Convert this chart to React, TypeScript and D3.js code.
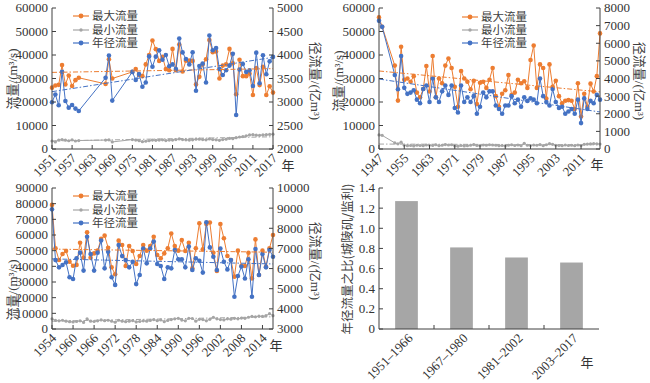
import React from 'react';
import * as d3 from 'd3';

const FONT = "'Liberation Serif','Times New Roman','Noto Sans CJK SC',serif";
const ORANGE = '#ED7D31';
const BLUE = '#4472C4';
const GRAY = '#A5A5A5';
const AXIS = '#404040';
const TEXT = '#333333';

const LEGEND = ['最大流量', '最小流量', '年径流量'];

// ---------- Panel 1 (1951–2017) ----------
const years1 = [1951, 1952, 1953, 1954, 1955, 1956, 1957, 1958, 1959, 1967, 1968, 1969, ...d3.range(1975, 2018)];
const max1 = [26100, 27000, 27300, 35700, 27500, 31300, 26800, 29300, 30300,
  27700, 38200, 30000,
  32800, 34000, 31500, 31000, 36000, 40000, 46200, 42500, 37500, 39200,
  34000, 33500, 42600, 33500, 44500, 33000, 37600, 37600, 37500, 27500,
  30700, 36000, 38200, 46400, 41200, 41500, 30000, 35500, 36000, 42600,
  36500, 23300, 38000, 31000, 31000, 32000, 23000, 34500, 27200, 35000,
  23000, 26700, 24000];
const min1 = [3400, 3000, 3800, 4000, 3800, 3500, 3900, 3400, 3600,
  3800, 3900, 3000,
  4000, 3800, 3500, 3100, 3300, 3500, 3800, 3700, 3800, 3900,
  3600, 3800, 3800, 4000, 4300, 4000, 3900, 3800, 3900, 4200,
  4200, 4000, 3900, 4300, 4000, 3900, 3700, 4000, 4200, 4500,
  4400, 4800, 5100, 5300, 5600, 6000, 6100, 5900, 5800, 6000,
  6100, 6200, 6300];
const annual1 = [2995, 3160, 2930, 3645, 3020, 2880, 2935, 2860, 2810,
  3515, 3990, 3030,
  3640, 3470, 3595, 3325, 3415, 3970, 3750, 3965, 4100, 3900,
  4000, 3760, 3800, 3700, 4350, 4055, 3915, 3800, 4060, 3240,
  3765, 3820, 3415, 4415, 4100, 4150, 3700, 3575, 3675, 3775,
  4025, 2725, 3690, 3810, 3640, 3675, 3340, 4050, 3400, 3995,
  3590, 3865, 3960];
const trendMax1 = [32600, 34200];
const trendMin1 = [3400, 5200];
const trendAnnual1 = [3220, 3950];

// ---------- Panel 2 (1947–2017) ----------
const years2 = [1947, 1948, ...d3.range(1952, 2018)];
const max2 = [56000, 52000,
  35500, 20600, 43500, 29500, 30000, 28600, 31000, 24000, 22000, 25500,
  35300, 24500, 39600, 22000, 30000, 28000, 35500, 38500, 34500, 26500,
  18000, 33200, 30000, 28600, 25400, 29000, 19100, 28200, 28600, 26000,
  29500, 34500, 22500, 18000, 23500, 25000, 31500, 23000, 24000, 29500,
  28000, 28800, 26000, 37900, 44000, 26000, 36000, 34500, 21500, 36000,
  26500, 29000, 22500, 19500, 20500, 20800, 20500, 17000, 28000, 13800,
  23500, 18000, 27800, 24500, 31000, 49200];
const min2 = [6000, 5800,
  2600, 2200, 2900, 1600, 1400, 1500, 1300, 1600, 1500, 1400,
  1700, 1600, 1500, 1800, 1400, 1600, 1900, 1700, 1800, 1300,
  1200, 1500, 1300, 1400, 1600, 1900, 1500, 1400, 1700, 1600,
  1800, 1700, 1600, 1400, 1500, 1300, 1600, 1800, 1500, 1700,
  1400, 2400, 1600, 1500, 1700, 1600, 1900, 1400, 1800, 2300,
  2000, 1600, 1500, 1400, 1700, 1500, 1600, 1400, 1700, 1500,
  2000, 2100, 2200, 2300, 2200, 2100];
const annual2 = [7270, 6930,
  4200, 3390, 5270, 3470, 3130, 3200, 3330, 2800, 2600, 3400,
  3600, 2670, 4000, 2930, 2670, 3270, 3600, 3070, 3600, 2330,
  2070, 3600, 2670, 2930, 2670, 3000, 2000, 2400, 3200, 2930,
  3270, 3270, 2470, 2270, 2000, 2470, 2470, 3000, 2600, 2800,
  2400, 2930, 2730, 2870, 2800, 2600, 4000, 3000, 2670, 2470,
  3400, 2670, 2330, 2400, 2000, 2130, 2270, 2000, 2800, 1470,
  2870, 2270, 2730, 2600, 3070, 2800];
const trendMax2 = [33200, 24300];
const trendMin2 = [2100, 1800];
const trendAnnual2 = [3970, 2100];

// ---------- Panel 3 (1954–2017) ----------
const years3 = d3.range(1954, 2018);
const max3 = [79200, 51500, 44000, 47900, 49800, 43000, 40400, 40900, 55100, 45500,
  61700, 45500, 48300, 50000, 57500, 59600, 51900, 39400, 34900, 56400,
  53600, 40200, 53000, 49800, 41500, 46600, 53600, 50000, 53000, 58900,
  47200, 45100, 48300, 51500, 61000, 53000, 50000, 56800, 49800, 55100,
  38700, 51500, 67500, 50900, 67000, 68000, 48700, 37000, 67000, 57900,
  46600, 44000, 33400, 50000, 40200, 40200, 48700, 32300, 57200, 34500,
  50000, 39800, 51500, 60000];
const min3 = [6500, 5500, 5200, 5600, 5000, 4700, 4500, 4800, 5200, 4200,
  6500, 5000, 4800, 5200, 5800, 5300, 5600, 5000, 4300, 5600,
  5000, 4700, 5000, 5400, 4500, 4800, 5200, 5000, 5500, 6000,
  5300, 5800, 4700, 5500, 6000, 6500, 6800, 5700, 5200, 6800,
  6700, 5000, 6200, 6000, 5200, 6200, 7500, 6500, 6000, 5800,
  6500, 6300, 6800, 6500, 7000, 6800, 7500, 8000, 7800, 8200,
  8000, 8500, 9800, 8500];
const annual3 = [8940, 6420, 6060, 6180, 6310, 5570, 5480, 6510, 6790, 5900,
  7580, 6720, 5900, 6790, 7390, 6010, 6840, 5570, 5190, 7170,
  6620, 6420, 6060, 6340, 5230, 5680, 7000, 6260, 7000, 7340,
  6230, 6130, 5480, 6060, 6010, 6920, 6460, 6460, 6060, 7090,
  5930, 6510, 6390, 5800, 8300, 7050, 6590, 5930, 7000, 6340,
  5960, 6420, 4600, 5630, 6100, 5510, 6460, 4600, 6970, 5680,
  6720, 6060, 6920, 6590];
const trendMax3 = [51000, 49000];
const trendMin3 = [5000, 7800];
const trendAnnual3 = [6480, 6230];

// ---------- Panel 4 (bars) ----------
const periods = ['1951–1966', '1967–1980', '1981–2002', '2003–2017'];
const ratios = [1.27, 0.81, 0.71, 0.66];
const ratioTicks = [0, 0.2, 0.4, 0.6, 0.8, 1.0, 1.2, 1.4];

type PanelProps = {
  left: number; right: number; top: number; bottom: number;
  years: number[]; maxV: number[]; minV: number[]; annual: number[];
  trendMax: number[]; trendMin: number[]; trendAnnual: number[];
  xDomain: [number, number]; xTicks: number[];
  yLDomain: [number, number]; yLTicks: number[];
  yRDomain: [number, number]; yRTicks: number[];
  legendX: number; legendY: number[];
  leftTitleY: number; rightTitleY: number; leftTitleX: number; rightTitleX: number;
  nianX: number; nianY: number;
};

const CJK = "'Noto Sans CJK SC',sans-serif";

function Legend({ x, ys }: { x: number; ys: number[] }) {
  const colors = [ORANGE, GRAY, BLUE];
  return (
    <g>
      {LEGEND.map((t, i) => (
        <g key={t}>
          <line x1={x} x2={x + 16} y1={ys[i]} y2={ys[i]} stroke={colors[i]} strokeWidth={1.2} />
          <circle cx={x + 8} cy={ys[i]} r={i === 1 ? 1.7 : 2.4} fill={colors[i]} />
          <text x={x + 19} y={ys[i]} dy="0.36em" fontSize={11.5} fill="#404040" fontFamily={FONT}>{t}</text>
        </g>
      ))}
    </g>
  );
}

function LinePanel(p: PanelProps) {
  const x = d3.scaleLinear().domain(p.xDomain).range([p.left, p.right]);
  const yL = d3.scaleLinear().domain(p.yLDomain).range([p.bottom, p.top]);
  const yR = d3.scaleLinear().domain(p.yRDomain).range([p.bottom, p.top]);
  const mk = (vals: number[], y: d3.ScaleLinear<number, number>) =>
    d3.line<number>().x((_, i) => x(p.years[i])).y((d) => y(d))(vals) || '';
  const trend = (vals: number[], y: d3.ScaleLinear<number, number>) =>
    d3.line<number>().x((_, i) => x(p.xDomain[i])).y((d) => y(d))(vals) || '';
  const tickLen = 4;
  const dash = '5,2,1.5,2';
  return (
    <g fontFamily={FONT}>
      <path d={mk(p.minV, yL)} fill="none" stroke={GRAY} strokeWidth={1} />
      {p.minV.map((v, i) => <circle key={'g' + i} cx={x(p.years[i])} cy={yL(v)} r={1.6} fill={GRAY} />)}
      <path d={mk(p.maxV, yL)} fill="none" stroke={ORANGE} strokeWidth={1} />
      {p.maxV.map((v, i) => <circle key={'o' + i} cx={x(p.years[i])} cy={yL(v)} r={2.3} fill={ORANGE} />)}
      <path d={mk(p.annual, yR)} fill="none" stroke={BLUE} strokeWidth={1} />
      {p.annual.map((v, i) => <circle key={'b' + i} cx={x(p.years[i])} cy={yR(v)} r={2.3} fill={BLUE} />)}
      <path d={trend(p.trendMin, yL)} fill="none" stroke={GRAY} strokeWidth={1} strokeDasharray={dash} />
      <path d={trend(p.trendMax, yL)} fill="none" stroke={ORANGE} strokeWidth={1} strokeDasharray={dash} />
      <path d={trend(p.trendAnnual, yR)} fill="none" stroke={BLUE} strokeWidth={1} strokeDasharray={dash} />
      <line x1={p.left} x2={p.left} y1={p.top} y2={p.bottom} stroke={AXIS} />
      <line x1={p.right} x2={p.right} y1={p.top} y2={p.bottom} stroke={AXIS} />
      <line x1={p.left} x2={p.right} y1={p.bottom} y2={p.bottom} stroke={AXIS} />
      {p.yLTicks.map((t) => (
        <g key={'l' + t}>
          <line x1={p.left} x2={p.left + tickLen} y1={yL(t)} y2={yL(t)} stroke={AXIS} />
          <text x={p.left - 4} y={yL(t)} dy="0.34em" textAnchor="end" fontSize={13} fill={TEXT}>{t}</text>
        </g>
      ))}
      {p.yRTicks.map((t) => (
        <g key={'r' + t}>
          <line x1={p.right} x2={p.right - tickLen} y1={yR(t)} y2={yR(t)} stroke={AXIS} />
          <text x={p.right + 4} y={yR(t)} dy="0.34em" textAnchor="start" fontSize={13} fill={TEXT}>{t}</text>
        </g>
      ))}
      {p.xTicks.map((t) => (
        <g key={'x' + t}>
          <line x1={x(t)} x2={x(t)} y1={p.bottom} y2={p.bottom - tickLen} stroke={AXIS} />
          <text transform={`translate(${x(t) + 5},${p.bottom + 10}) rotate(-45)`} textAnchor="end"
            fontSize={13} fill={TEXT}>{t}</text>
        </g>
      ))}
      <text x={p.nianX} y={p.nianY} dy="0.35em" textAnchor="middle" fontSize={13} fill={TEXT} fontFamily={CJK}>年</text>
      <text transform={`translate(${p.leftTitleX},${p.leftTitleY}) rotate(-90)`} textAnchor="middle"
        dy="0.35em" fontSize={13} fill="#404040">
        <tspan fontFamily={CJK}>流量</tspan>/(m³/s)
      </text>
      <text transform={`translate(${p.rightTitleX},${p.rightTitleY}) rotate(90)`} textAnchor="middle"
        dy="0.35em" fontSize={13} fill="#404040">
        <tspan fontFamily={CJK}>径流量</tspan>/(<tspan fontFamily={CJK}>亿</tspan>m³)
      </text>
      <Legend x={p.legendX} ys={p.legendY} />
    </g>
  );
}

function BarPanel() {
  const left = 379, right = 599, top = 188, bottom = 329;
  const x = d3.scaleBand<string>().domain(periods).range([left, right]).paddingInner(0.587).paddingOuter(0.2935);
  const y = d3.scaleLinear().domain([0, 1.4]).range([bottom, top]);
  const step = x.step();
  return (
    <g fontFamily={FONT}>
      {ratios.map((v, i) => (
        <rect key={i} x={x(periods[i])} y={y(v)} width={x.bandwidth()} height={y(0) - y(v)} fill="#A6A6A6" />
      ))}
      <line x1={left} x2={left} y1={top} y2={bottom} stroke={AXIS} />
      <line x1={left} x2={right} y1={bottom} y2={bottom} stroke={AXIS} />
      {ratioTicks.map((t) => (
        <g key={t}>
          <line x1={left} x2={left + 4} y1={y(t)} y2={y(t)} stroke={AXIS} />
          <text x={left - 4} y={y(t)} dy="0.34em" textAnchor="end" fontSize={13} fill={TEXT}>
            {t === 0 ? '0' : d3.format('.1f')(t)}
          </text>
        </g>
      ))}
      {periods.slice(1).map((p) => (
        <line key={p} x1={(x(p) as number) - step * 0.2935} x2={(x(p) as number) - step * 0.2935}
          y1={bottom} y2={bottom - 4} stroke={AXIS} />
      ))}
      {periods.map((p) => {
        const cx = (x(p) as number) + x.bandwidth() / 2;
        return (
          <text key={p} transform={`translate(${cx + 7},${bottom + 10}) rotate(-45)`} textAnchor="end"
            fontSize={13} fill={TEXT}>{p}</text>
        );
      })}
      <text x={587} y={362} dy="0.35em" textAnchor="middle" fontSize={13} fill={TEXT} fontFamily={CJK}>年</text>
      <text transform={`translate(348,259) rotate(-90)`} textAnchor="middle" dy="0.35em" fontSize={12.5}
        fill="#404040" fontFamily={CJK}>年径流量之比(城陵矶/监利)</text>
    </g>
  );
}

export default function App() {
  return (
    <svg width={650} height={383} style={{ position: 'absolute', left: 0, top: 0, background: '#fff' }}>
      <rect width={650} height={383} fill="#fff" />
      <LinePanel left={52} right={273} top={8} bottom={149}
        years={years1} maxV={max1} minV={min1} annual={annual1}
        trendMax={trendMax1} trendMin={trendMin1} trendAnnual={trendAnnual1}
        xDomain={[1951, 2017]} xTicks={d3.range(1951, 2018, 6)}
        yLDomain={[0, 60000]} yLTicks={d3.range(0, 60001, 10000)}
        yRDomain={[2000, 5000]} yRTicks={d3.range(2000, 5001, 500)}
        legendX={73} legendY={[16, 30, 43]}
        leftTitleX={12} leftTitleY={79} rightTitleX={316} rightTitleY={81}
        nianX={288} nianY={165} />
      <LinePanel left={379} right={600} top={8} bottom={149}
        years={years2} maxV={max2} minV={min2} annual={annual2}
        trendMax={trendMax2} trendMin={trendMin2} trendAnnual={trendAnnual2}
        xDomain={[1947, 2017]} xTicks={d3.range(1947, 2012, 8)}
        yLDomain={[0, 60000]} yLTicks={d3.range(0, 60001, 10000)}
        yRDomain={[0, 8000]} yRTicks={d3.range(0, 8001, 1000)}
        legendX={462} legendY={[17, 30, 43]}
        leftTitleX={338} leftTitleY={81} rightTitleX={640} rightTitleY={81}
        nianX={597} nianY={164} />
      <LinePanel left={52} right={273} top={188} bottom={329}
        years={years3} maxV={max3} minV={min3} annual={annual3}
        trendMax={trendMax3} trendMin={trendMin3} trendAnnual={trendAnnual3}
        xDomain={[1954, 2017]} xTicks={d3.range(1954, 2015, 6)}
        yLDomain={[0, 90000]} yLTicks={d3.range(0, 90001, 10000)}
        yRDomain={[3000, 10000]} yRTicks={d3.range(3000, 10001, 1000)}
        legendX={73} legendY={[196, 210, 223]}
        leftTitleX={12} leftTitleY={290} rightTitleX={316} rightTitleY={261}
        nianX={276} nianY={345} />
      <BarPanel />
    </svg>
  );
}
